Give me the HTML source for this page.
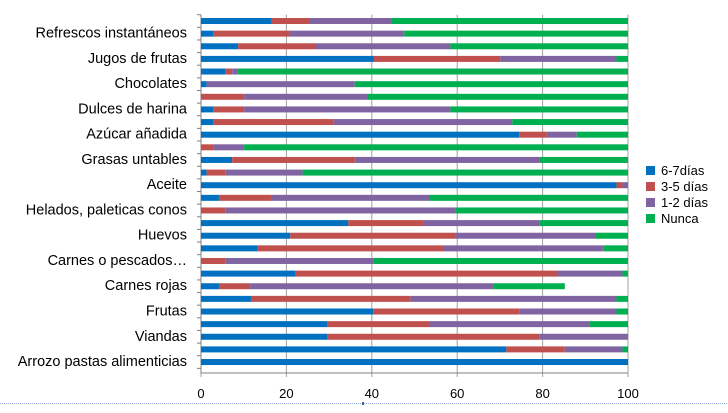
<!DOCTYPE html>
<html><head><meta charset="utf-8">
<style>
html,body{margin:0;padding:0;background:#fff;}
svg{display:block;font-family:"Liberation Sans",sans-serif;}
</style></head>
<body>
<svg id="chart" width="728" height="413" viewBox="0 0 728 413"></svg>
<script>
const categories = ["","Refrescos instantáneos","","Jugos de frutas","","Chocolates","","Dulces de harina","","Azúcar añadida","","Grasas untables","","Aceite","","Helados, paleticas conos","","Huevos","","Carnes o pescados…","","Carnes rojas","","Frutas","","Viandas","","Arrozo pastas alimenticias"];
const s67 = [16.5,2.9,8.7,40.5,5.8,1.3,0,2.9,2.9,74.5,0,7.3,1.3,97.3,4.2,0,34.5,20.9,13.3,0,22.2,4.2,11.7,40.3,29.6,29.6,71.5,100];
const s35 = [8.9,17.7,18.0,29.6,1.5,0,10.1,7.2,28.1,6.5,2.9,28.7,4.5,1.4,12.3,5.8,17.5,38.8,43.6,5.8,61.4,7.3,37.4,34.2,23.8,49.6,13.7,0];
const s12 = [19.2,27.0,31.7,27.2,1.4,34.7,28.9,48.3,41.9,7.0,7.2,43.2,18.0,1.3,36.9,53.9,27.2,32.7,37.3,34.5,15.1,57.1,48.2,22.8,37.6,20.8,13.5,0];
const nunca = [55.4,52.4,41.6,2.7,91.3,64.0,61.0,41.6,27.1,12.0,89.9,20.8,76.2,0,46.6,40.3,20.8,7.6,5.8,59.7,1.3,16.6,2.7,2.7,9.0,0,1.3,0];
const ticks = [0,20,40,60,80,100];
const seriesNames = ["6-7días","3-5 días","1-2 días","Nunca"];
const colors = ["#0070c0","#c0504d","#8064a2","#00b050"];

const NS="http://www.w3.org/2000/svg";
const svg=document.getElementById('chart');
const X0=201,X1=628,Ytop=14.7,Ybot=373;
const x=v=>X0+(X1-X0)*v/100;
const n=categories.length;
const band=12.63;
const yc=i=>Ytop+band*(i+0.5);
function mk(t,a){const e=document.createElementNS(NS,t);for(const k in a)e.setAttribute(k,a[k]);svg.appendChild(e);return e;}

ticks.forEach(t=>{
  const g=mk('line',{x1:x(t),x2:x(t),y1:Ytop,y2:Ybot+4,stroke:'#a0a0a0','stroke-width':1});
  
  
  const l=mk('text',{x:x(t),y:398,'text-anchor':'middle','font-size':13,fill:'#000'});
  l.textContent=t;
  
  
});
const ax=mk('line',{x1:X0,x2:X0,y1:Ytop,y2:Ybot,stroke:'#808080','stroke-width':1});


const bx=mk('line',{x1:X0,x2:X1,y1:Ybot,y2:Ybot,stroke:'#808080','stroke-width':1});


for(let i=0;i<=n;i++){
  const tk=mk('line',{x1:X0-4,x2:X0,y1:Ytop+band*i,y2:Ytop+band*i,stroke:'#808080'});
  
  
}
const series=[s67,s35,s12,nunca];
for(let i=0;i<n;i++){
  let acc=0;
  series.forEach((s,k)=>{
    const v=s[i];
    if(v>0){
      const r=mk('rect',{x:x(acc),y:yc(i)-3,width:x(acc+v)-x(acc),height:6,fill:colors[k]});
      
      
    }
    acc+=v;
  });
  if(categories[i]){
    const t=mk('text',{x:187,y:yc(i)+4,'text-anchor':'end','font-size':14.5,fill:'#000'});
    t.textContent=categories[i];
    
    
  }
}
seriesNames.forEach((s,k)=>{
  const yy=171+k*16;
  const r=mk('rect',{x:646,y:yy-5,width:9,height:9,fill:colors[k]});
  
  
  const t=mk('text',{x:661,y:yy+4,'font-size':13,fill:'#000'});
  t.textContent=s;
  
  
});
const d=mk('line',{x1:0,x2:728,y1:403.5,y2:403.5,stroke:'#8fa9dc','stroke-width':1,'stroke-dasharray':'1,1'});


const m=mk('rect',{x:362,y:402,width:2,height:3,fill:'#4060a0'});


</script>
</body></html>
